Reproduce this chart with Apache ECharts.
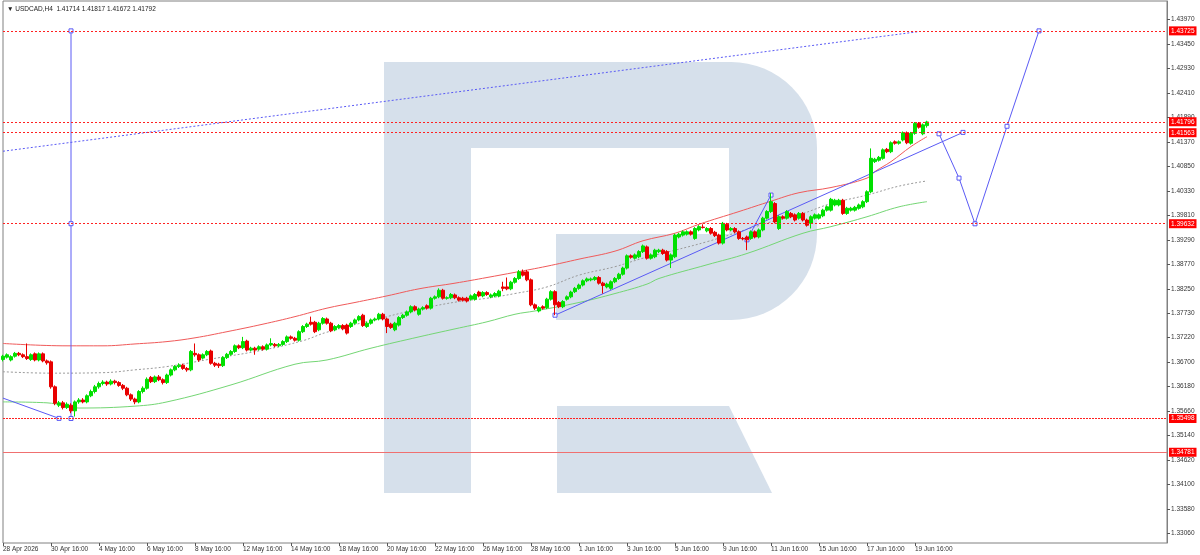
<!DOCTYPE html>
<html><head><meta charset="utf-8">
<script src="https://cdn.jsdelivr.net/npm/echarts@6/dist/echarts.min.js"></script>
<style>html,body{margin:0;padding:0;background:#fff}#c{width:1200px;height:555px}</style>
</head><body><div id="c"></div>
<script>
const headerText = '\u25BC USDCAD,H4  1.41714 1.41817 1.41672 1.41792';
const barCount = 292;
const xTickIndex = [0,12,24,36,48,60,72,84,96,108,120,132,144,156,168,180,192,204,216,228];
const xTickLabels = ['28 Apr 2026','30 Apr 16:00','4 May 16:00','6 May 16:00','8 May 16:00','12 May 16:00','14 May 16:00','18 May 16:00','20 May 16:00','22 May 16:00','26 May 16:00','28 May 16:00','1 Jun 16:00','3 Jun 16:00','5 Jun 16:00','9 Jun 16:00','11 Jun 16:00','15 Jun 16:00','17 Jun 16:00','19 Jun 16:00'];
const yTickValues = [1.33060,1.33580,1.34100,1.34620,1.35140,1.35660,1.36180,1.36700,1.37220,1.37730,1.38250,1.38770,1.39290,1.39810,1.40330,1.40850,1.41370,1.41890,1.42410,1.42930,1.43450,1.43970];
const priceLevels = [1.43725,1.41796,1.41563,1.39632,1.35498,1.34781];

// [open, close, low, high]
const candles = [
[1.3675,1.3682,1.3671,1.3685],[1.3680,1.3685,1.3677,1.3688],[1.3674,1.3681,1.3671,1.3684],[1.3682,1.3688,1.3679,1.3691],
[1.3688,1.3685,1.3682,1.3691],[1.3685,1.3681,1.3678,1.3688],[1.3681,1.3677,1.3674,1.3709],[1.3675,1.3685,1.3672,1.3688],
[1.3687,1.3674,1.3671,1.3690],[1.3674,1.3687,1.3671,1.3690],[1.3687,1.3672,1.3669,1.3690],[1.3672,1.3668,1.3664,1.3675],
[1.3670,1.3617,1.3613,1.3673],[1.3617,1.3582,1.3578,1.3620],[1.3578,1.3583,1.3574,1.3587],[1.3583,1.3573,1.3569,1.3587],
[1.3573,1.3580,1.3570,1.3584],[1.3578,1.3566,1.3561,1.3582],[1.3566,1.3585,1.3554,1.3588],[1.3585,1.3589,1.3581,1.3593],
[1.3589,1.3585,1.3582,1.3593],[1.3585,1.3598,1.3582,1.3601],[1.3598,1.3607,1.3595,1.3611],[1.3607,1.3617,1.3603,1.3621],
[1.3617,1.3624,1.3613,1.3628],[1.3624,1.3627,1.3620,1.3631],[1.3627,1.3623,1.3619,1.3630],[1.3623,1.3629,1.3620,1.3633],
[1.3629,1.3626,1.3622,1.3632],[1.3626,1.3620,1.3617,1.3629],[1.3620,1.3614,1.3610,1.3623],[1.3614,1.3600,1.3597,1.3617],
[1.3600,1.3591,1.3587,1.3603],[1.3591,1.3585,1.3580,1.3594],[1.3585,1.3607,1.3582,1.3610],[1.3607,1.3614,1.3603,1.3618],
[1.3614,1.3633,1.3611,1.3637],[1.3637,1.3628,1.3625,1.3640],[1.3628,1.3638,1.3625,1.3641],[1.3638,1.3632,1.3629,1.3642],
[1.3632,1.3626,1.3622,1.3635],[1.3626,1.3642,1.3623,1.3645],[1.3642,1.3653,1.3639,1.3656],[1.3653,1.3660,1.3650,1.3663],
[1.3660,1.3663,1.3657,1.3667],[1.3663,1.3656,1.3653,1.3666],[1.3656,1.3653,1.3649,1.3659],[1.3653,1.3692,1.3650,1.3695],
[1.3688,1.3685,1.3681,1.3709],[1.3685,1.3674,1.3670,1.3688],[1.3678,1.3685,1.3675,1.3688],[1.3685,1.3692,1.3682,1.3695],
[1.3693,1.3667,1.3664,1.3696],[1.3667,1.3663,1.3659,1.3670],[1.3665,1.3662,1.3657,1.3668],[1.3662,1.3679,1.3659,1.3682],
[1.3679,1.3686,1.3676,1.3689],[1.3686,1.3692,1.3683,1.3695],[1.3692,1.3704,1.3689,1.3707],[1.3704,1.3700,1.3697,1.3707],
[1.3700,1.3713,1.3697,1.3723],[1.3714,1.3695,1.3692,1.3717],[1.3695,1.3699,1.3692,1.3702],[1.3699,1.3695,1.3685,1.3702],
[1.3697,1.3702,1.3694,1.3705],[1.3702,1.3697,1.3694,1.3705],[1.3697,1.3706,1.3694,1.3709],[1.3706,1.3709,1.3703,1.3720],
[1.3707,1.3704,1.3701,1.3710],[1.3704,1.3707,1.3701,1.3710],[1.3707,1.3713,1.3704,1.3716],[1.3713,1.3723,1.3710,1.3726],
[1.3723,1.3720,1.3717,1.3726],[1.3720,1.3716,1.3713,1.3723],[1.3716,1.3734,1.3713,1.3737],[1.3734,1.3745,1.3731,1.3748],
[1.3745,1.3750,1.3742,1.3753],[1.3754,1.3750,1.3747,1.3766],[1.3754,1.3734,1.3731,1.3757],[1.3738,1.3752,1.3735,1.3755],
[1.3752,1.3762,1.3749,1.3765],[1.3761,1.3752,1.3749,1.3764],[1.3752,1.3736,1.3733,1.3755],[1.3738,1.3745,1.3735,1.3748],
[1.3743,1.3747,1.3740,1.3750],[1.3747,1.3740,1.3737,1.3750],[1.3748,1.3731,1.3728,1.3751],[1.3745,1.3752,1.3742,1.3755],
[1.3752,1.3759,1.3749,1.3762],[1.3759,1.3766,1.3756,1.3769],[1.3769,1.3747,1.3744,1.3772],[1.3745,1.3752,1.3742,1.3755],
[1.3752,1.3759,1.3749,1.3762],[1.3759,1.3761,1.3756,1.3764],[1.3761,1.3771,1.3758,1.3774],[1.3771,1.3761,1.3758,1.3774],
[1.3761,1.3745,1.3731,1.3764],[1.3750,1.3743,1.3740,1.3753],[1.3738,1.3752,1.3735,1.3755],[1.3748,1.3764,1.3745,1.3767],
[1.3764,1.3769,1.3761,1.3772],[1.3769,1.3776,1.3766,1.3779],[1.3776,1.3787,1.3773,1.3790],[1.3787,1.3780,1.3777,1.3790],
[1.3771,1.3782,1.3768,1.3785],[1.3782,1.3785,1.3779,1.3788],[1.3789,1.3784,1.3781,1.3792],[1.3784,1.3805,1.3781,1.3808],
[1.3805,1.3808,1.3802,1.3811],[1.3808,1.3822,1.3805,1.3826],[1.3822,1.3805,1.3802,1.3825],[1.3805,1.3806,1.3802,1.3809],
[1.3806,1.3813,1.3803,1.3816],[1.3812,1.3806,1.3803,1.3815],[1.3806,1.3801,1.3798,1.3809],[1.3805,1.3801,1.3798,1.3808],
[1.3805,1.3799,1.3796,1.3808],[1.3803,1.3810,1.3800,1.3813],[1.3803,1.3813,1.3800,1.3816],[1.3818,1.3810,1.3807,1.3821],
[1.3810,1.3817,1.3807,1.3820],[1.3817,1.3813,1.3810,1.3820],[1.3808,1.3812,1.3805,1.3815],[1.3810,1.3815,1.3807,1.3818],
[1.3810,1.3820,1.3807,1.3823],[1.3829,1.3826,1.3820,1.3840],[1.3829,1.3825,1.3822,1.3849],[1.3825,1.3839,1.3822,1.3842],
[1.3839,1.3847,1.3836,1.3850],[1.3847,1.3861,1.3844,1.3865],[1.3861,1.3854,1.3851,1.3866],[1.3861,1.3844,1.3841,1.3865],
[1.3844,1.3791,1.3788,1.3847],[1.3791,1.3784,1.3780,1.3794],[1.3778,1.3785,1.3775,1.3788],[1.3787,1.3784,1.3781,1.3790],
[1.3785,1.3803,1.3782,1.3806],[1.3803,1.3819,1.3800,1.3822],[1.3819,1.3791,1.3769,1.3822],[1.3796,1.3787,1.3784,1.3799],
[1.3787,1.3798,1.3784,1.3801],[1.3803,1.3808,1.3800,1.3811],[1.3808,1.3818,1.3805,1.3821],[1.3819,1.3826,1.3816,1.3829],
[1.3826,1.3833,1.3823,1.3836],[1.3833,1.3842,1.3830,1.3845],[1.3842,1.3846,1.3839,1.3849],[1.3844,1.3846,1.3841,1.3849],
[1.3845,1.3849,1.3842,1.3852],[1.3849,1.3837,1.3834,1.3852],[1.3837,1.3832,1.3815,1.3840],[1.3829,1.3835,1.3826,1.3838],
[1.3826,1.3840,1.3823,1.3843],[1.3840,1.3847,1.3837,1.3850],[1.3847,1.3856,1.3844,1.3859],[1.3856,1.3869,1.3853,1.3872],
[1.3869,1.3895,1.3866,1.3898],[1.3895,1.3892,1.3889,1.3898],[1.3890,1.3897,1.3887,1.3900],[1.3893,1.3904,1.3890,1.3907],
[1.3904,1.3916,1.3901,1.3919],[1.3914,1.3890,1.3887,1.3917],[1.3890,1.3897,1.3887,1.3900],[1.3893,1.3907,1.3890,1.3910],
[1.3904,1.3907,1.3901,1.3910],[1.3907,1.3900,1.3897,1.3910],[1.3904,1.3886,1.3883,1.3907],[1.3886,1.3897,1.3869,1.3900],
[1.3893,1.3939,1.3890,1.3942],[1.3935,1.3941,1.3932,1.3944],[1.3939,1.3946,1.3936,1.3949],[1.3941,1.3946,1.3938,1.3949],
[1.3946,1.3941,1.3938,1.3949],[1.3932,1.3953,1.3929,1.3956],[1.3950,1.3957,1.3947,1.3960],[1.3956,1.3955,1.3953,1.3962],
[1.3948,1.3953,1.3945,1.3956],[1.3953,1.3943,1.3940,1.3956],[1.3945,1.3938,1.3935,1.3948],[1.3939,1.3922,1.3919,1.3942],
[1.3922,1.3964,1.3919,1.3967],[1.3962,1.3950,1.3947,1.3965],[1.3950,1.3953,1.3947,1.3956],[1.3953,1.3946,1.3943,1.3956],
[1.3946,1.3932,1.3929,1.3949],[1.3932,1.3931,1.3928,1.3935],[1.3935,1.3929,1.3907,1.3938],[1.3932,1.3946,1.3929,1.3949],
[1.3946,1.3935,1.3932,1.3949],[1.3935,1.3950,1.3932,1.3953],[1.3950,1.3975,1.3947,1.3978],[1.3975,1.3989,1.3972,1.3992],
[1.3989,1.4010,1.3986,1.4028],[1.4006,1.3967,1.3964,1.4009],[1.3953,1.3978,1.3950,1.3981],[1.3978,1.3975,1.3972,1.3981],
[1.3975,1.3989,1.3972,1.3992],[1.3985,1.3978,1.3975,1.3988],[1.3982,1.3971,1.3968,1.3985],[1.3975,1.3985,1.3972,1.3988],
[1.3985,1.3971,1.3968,1.3988],[1.3971,1.3960,1.3957,1.3974],[1.3964,1.3978,1.3953,1.3981],[1.3975,1.3982,1.3972,1.3985],
[1.3975,1.3982,1.3972,1.3985],[1.3980,1.3992,1.3977,1.3995],[1.3992,1.3999,1.3989,1.4002],[1.3992,1.4015,1.3989,1.4018],
[1.4003,1.4013,1.4000,1.4016],[1.4003,1.4013,1.4000,1.4016],[1.4013,1.3985,1.3982,1.4016],[1.3985,1.3996,1.3982,1.3999],
[1.3992,1.3996,1.3989,1.3999],[1.3992,1.3998,1.3989,1.4001],[1.3996,1.4003,1.3993,1.4006],[1.3999,1.4010,1.3996,1.4013],
[1.4010,1.4031,1.4007,1.4034],[1.4031,1.4102,1.4028,1.4123],[1.4095,1.4100,1.4092,1.4103],[1.4098,1.4104,1.4095,1.4107],
[1.4102,1.4120,1.4099,1.4123],[1.4121,1.4116,1.4113,1.4124],[1.4116,1.4135,1.4113,1.4138],[1.4137,1.4134,1.4131,1.4140],
[1.4134,1.4137,1.4131,1.4140],[1.4141,1.4156,1.4138,1.4159],[1.4156,1.4135,1.4132,1.4159],[1.4134,1.4155,1.4131,1.4158],
[1.4155,1.4176,1.4152,1.4179],[1.4176,1.4168,1.4165,1.4179],[1.4154,1.4173,1.4151,1.4176],[1.41714,1.41792,1.41672,1.41817]
];

// [bar index, price]
const upperBand = [[0,1.3709],[16,1.3704],[25,1.3704],[33,1.3708],[41,1.3713],[48,1.3721],[56,1.3734],[65,1.3750],[73,1.3766],[81,1.3784],[88,1.3796],[96,1.3810],[104,1.3825],[113,1.3837],[121,1.3849],[128,1.3860],[136,1.3873],[144,1.3888],[153,1.3905],[160,1.3927],[168,1.3943],[174,1.3962],[184,1.3989],[192,1.4011],[199,1.4029],[207,1.4040],[216,1.4060],[218,1.4074],[222,1.4095],[227,1.4127],[231,1.4148]];
const middleBand = [[0,1.3649],[12,1.3646],[25,1.3647],[33,1.3653],[41,1.3660],[52,1.3676],[65,1.3695],[75,1.3715],[81,1.3733],[96,1.3766],[104,1.3782],[114,1.3798],[121,1.3805],[128,1.3815],[136,1.3829],[144,1.3854],[153,1.3872],[160,1.3890],[168,1.3907],[176,1.3925],[184,1.3946],[192,1.3967],[200,1.3985],[207,1.4006],[216,1.4024],[224,1.4043],[231,1.4054]];
const lowerBand = [[0,1.3585],[11,1.3583],[19,1.3572],[33,1.3576],[41,1.3585],[57,1.3621],[73,1.3665],[81,1.3674],[92,1.3699],[104,1.3723],[113,1.3740],[121,1.3755],[128,1.3771],[133,1.3778],[144,1.3796],[153,1.3815],[161,1.3835],[164,1.3847],[176,1.3876],[186,1.3900],[200,1.3943],[207,1.3957],[216,1.3978],[224,1.3999],[231,1.4010]];
const longTrend = [[0,1.4117],[229,1.4371]];
const verticalMark = [[17,1.43725],[17,1.39632],[17,1.35498]];
const leftSegment = [[0,1.3593],[14,1.3550]];
const channelLine = [[138,1.3769],[240,1.4157]];
const waveLine = [[186,1.3929],[192,1.4024]];
const forecastPath = [[234,1.4154],[239,1.4060],[243,1.3963],[251,1.4170],[259,1.43725]];

const xCategories = Array.from({length: barCount}, (_, i) => String(i));
const tickLabelAt = {};
xTickIndex.forEach((idx, k) => { tickLabelAt[idx] = xTickLabels[k]; });
const isTick = (index) => tickLabelAt[index] !== undefined;

const FONT = 'Liberation Sans, DejaVu Sans, sans-serif';
const BLUE = '#5a5af5';
const logoColor = '#d6e0eb';

const markerStyle = {color:'#ffffff', borderColor: BLUE, borderWidth: 1};
function blueLine(data, markerMode, dotted) {
  // markerMode: 'none' | 'all' | 'skipFirst'
  const items = data.map((p, k) => (markerMode === 'skipFirst' && k === 0) ? {value:p, symbol:'none'} : {value:p});
  return {
    type:'line', data: items, smooth:false, z:4,
    symbol: markerMode === 'none' ? 'none' : 'rect', symbolSize: 4,
    showSymbol: markerMode !== 'none', showAllSymbol: true,
    itemStyle: markerStyle,
    lineStyle:{color: BLUE, width:1, type: dotted ? [2,2] : 'solid'},
    silent:true
  };
}

const levelLines = priceLevels.map((v, k) => {
  const solid = (k === priceLevels.length - 1);
  return {
    yAxis: v,
    lineStyle: solid ? {color:'#f07070', width:1, type:'solid'}
                     : {color:'#ff2020', width:1, type: (k === 4 ? [2,1] : [2,2])}
  };
});

const chart = echarts.init(document.getElementById('c'), null, {renderer:'canvas'});
chart.setOption({
  animation:false,
  backgroundColor:'#ffffff',
  textStyle:{fontFamily: FONT},
  title:{text: headerText, left:2, top:1, textStyle:{fontSize:6.5, fontWeight:'normal', color:'#222', fontFamily: FONT}},
  graphic:{elements:[
    {type:'rect', z:-1, silent:true, shape:{x:384,y:62,width:87,height:431}, style:{fill:logoColor}},
    {type:'rect', z:-1, silent:true, shape:{x:470,y:62,width:262,height:86}, style:{fill:logoColor}},
    {type:'rect', z:-1, silent:true, shape:{x:729,y:62,width:88,height:258,r:[0,86,86,0]}, style:{fill:logoColor}},
    {type:'rect', z:-1, silent:true, shape:{x:556,y:234,width:176,height:86}, style:{fill:logoColor}},
    {type:'polygon', z:-1, silent:true, shape:{points:[[557,406],[729,406],[772,493],[557,493]]}, style:{fill:logoColor}}
  ]},
  grid:{left:1, right:33, top:1, bottom:12, show:true, borderColor:'#808080', borderWidth:1, backgroundColor:'transparent'},
  xAxis:{
    type:'category', data:xCategories, boundaryGap:false,
    axisLine:{show:false},
    axisTick:{show:true, interval:(i)=>isTick(i), length:3, lineStyle:{color:'#555'}},
    axisLabel:{interval:(i)=>isTick(i), formatter:(v, i)=>tickLabelAt[Number(v)] || '', fontSize:6.5, color:'#333', align:'left', margin:3, fontFamily:FONT},
    splitLine:{show:false}
  },
  yAxis:{
    type:'value', position:'right', min:1.32855, max:1.44359, scale:true,
    axisLine:{show:true, lineStyle:{color:'#808080'}},
    axisTick:{show:true, customValues: yTickValues, length:3, lineStyle:{color:'#555'}},
    axisLabel:{customValues: yTickValues, formatter:(v)=>Number(v).toFixed(5), fontSize:6.5, color:'#333', margin:4, fontFamily:FONT},
    splitLine:{show:false}
  },
  series:[
    {type:'line', data:upperBand, smooth:0.4, symbol:'none', z:3, silent:true, lineStyle:{color:'#f05a5a', width:1}},
    {type:'line', data:middleBand, smooth:0.4, symbol:'none', z:3, silent:true, lineStyle:{color:'#9a9a9a', width:1, type:[2,2]}},
    {type:'line', data:lowerBand, smooth:0.4, symbol:'none', z:3, silent:true, lineStyle:{color:'#74d674', width:1}},
    blueLine(longTrend, 'none', true),
    blueLine(verticalMark, 'all', false),
    blueLine(leftSegment, 'skipFirst', false),
    blueLine(channelLine, 'all', false),
    blueLine(waveLine, 'all', false),
    blueLine(forecastPath, 'all', false),
    {
      type:'candlestick', data:candles, barWidth:3, z:5, silent:true,
      itemStyle:{color:'#00e000', color0:'#e80000', borderColor:'#00e000', borderColor0:'#e80000', borderWidth:1},
      markLine:{
        silent:true, symbol:['none','none'], precision:5, z:6,
        label:{show:true, position:'end', distance:2, formatter:(p)=>Number(p.value).toFixed(5),
               backgroundColor:'#ff0000', color:'#ffffff', padding:[1,2,1,2], fontSize:6.5, fontFamily:FONT},
        data: levelLines
      }
    }
  ]
});
</script>
</body></html>
